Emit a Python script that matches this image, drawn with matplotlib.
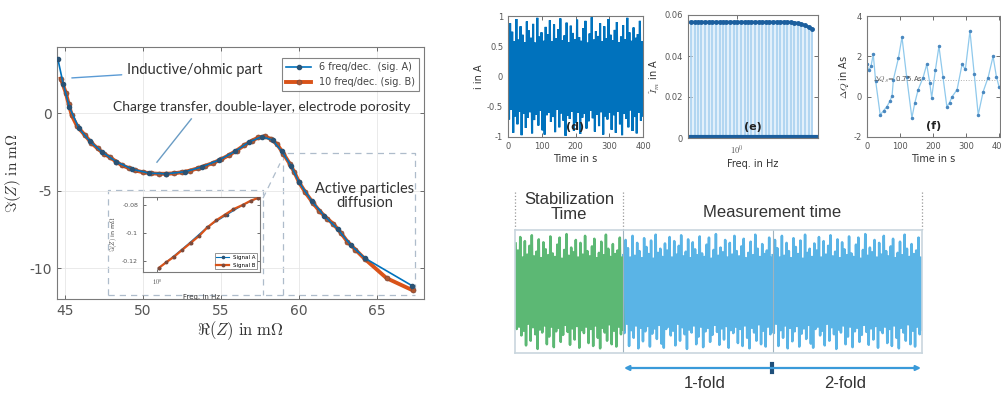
import numpy as np
import matplotlib
matplotlib.use("Agg")
import matplotlib.pyplot as plt
from matplotlib.ticker import NullLocator, FixedLocator, FixedFormatter

# ---------------- data ----------------
# Nyquist plot, signal A (6 freq/dec.)
re_A = [44.55, 44.9, 45.3, 45.9, 46.6, 47.4, 48.3, 49.3, 50.4, 51.5, 52.7, 53.8,
        54.9, 55.9, 56.8, 57.6, 58.3, 58.9, 59.5, 60.0, 60.8, 61.6, 62.5, 63.3,
        64.2, 67.25]
im_A = [3.55, 1.9, 0.4, -0.95, -1.8, -2.5, -3.12, -3.6, -3.86, -3.9, -3.77, -3.45,
        -3.0, -2.45, -1.85, -1.5, -1.72, -2.45, -3.4, -4.45, -5.65, -6.6, -7.5, -8.5,
        -9.35, -11.15]
# Nyquist plot, signal B (10 freq/dec.)
re_B = [44.74, 45.06, 45.25, 45.45, 45.8, 46.3, 46.7, 47.1, 47.5, 47.9, 48.3, 48.65,
        49.1, 49.5, 50.0, 50.5, 51.0, 51.5, 52.0, 52.5, 53.0, 53.5, 54.0, 54.5,
        55.0, 55.5, 56.0, 56.5, 57.0, 57.4, 57.8, 58.2, 58.6, 59.0, 59.4, 59.7,
        60.0, 60.4, 60.9, 61.3, 61.8, 62.2, 62.7, 63.1, 63.6, 64.2, 65.6, 67.3]
im_B = [2.26, 1.35, 0.6, -0.13, -0.84, -1.42, -1.9, -2.26, -2.6, -2.84, -3.12, -3.35,
        -3.53, -3.68, -3.8, -3.87, -3.9, -3.9, -3.87, -3.8, -3.7, -3.55, -3.38, -3.2,
        -2.97, -2.7, -2.4, -2.05, -1.75, -1.55, -1.48, -1.65, -2.0, -2.6, -3.25, -3.8,
        -4.45, -5.1, -5.8, -6.3, -6.8, -7.15, -7.75, -8.3, -8.8, -9.4, -10.65, -11.45]

# inset (zoom on low-frequency part)
inset_f_A = [1.04, 1.37, 1.9, 2.67, 3.96, 5.43, 7.3]
inset_v_A = [-0.125, -0.117, -0.107, -0.096, -0.087, -0.080, -0.075]
inset_f_B = [1.04, 1.2, 1.4, 1.65, 1.95, 2.3, 2.7, 3.2, 3.8, 4.5, 5.4, 6.3, 7.3]
inset_v_B = [-0.125, -0.121, -0.117, -0.112, -0.107, -0.102, -0.096, -0.091,
             -0.087, -0.083, -0.080, -0.077, -0.075]

# multisine excitation current (one period, sample peaks)
sig = [0.62, -0.71, 0.88, -0.55, 0.74, -0.93, 0.58, -0.66, 0.95, -0.79,
       0.61, -0.58, 0.83, -0.97, 0.69, -0.62, 0.57, -0.85, 0.91, -0.68,
       0.76, -0.59, 0.64, -0.94, 0.87, -0.72, 0.56, -0.63, 0.97, -0.81,
       0.66, -0.57, 0.73, -0.89, 0.59, -0.96, 0.82, -0.64, 0.70, -0.60,
       0.93, -0.75, 0.58, -0.67, 0.86, -0.92, 0.63, -0.55, 0.78, -0.84,
       0.96, -0.61, 0.60, -0.73, 0.68, -0.98, 0.89, -0.65, 0.57, -0.70,
       0.84, -0.58, 0.72, -0.90, 0.62, -0.77, 0.94, -0.60, 0.65, -0.95,
       0.59, -0.68, 0.80, -0.62, 0.92, -0.86, 0.56, -0.74, 0.71, -0.57,
       0.98, -0.69, 0.61, -0.91, 0.75, -0.63, 0.67, -0.82, 0.88, -0.59,
       0.58, -0.96, 0.83, -0.66, 0.63, -0.71, 0.95, -0.60, 0.69, -0.88,
       0.60, -0.64, 0.77, -0.93, 0.90, -0.58, 0.57, -0.79, 0.66, -0.97,
       0.85, -0.62, 0.62, -0.70, 0.97, -0.84, 0.73, -0.56, 0.59, -0.90,
       0.81, -0.67, 0.64, -0.94, 0.70, -0.60, 0.92, -0.73, 0.58, -0.65]
sig_period = 400.0

# amplitude spectrum (e)
freq_e = [0.42, 0.45, 0.48, 0.51, 0.55, 0.59, 0.63, 0.67, 0.72, 0.77, 0.82, 0.88,
          0.94, 1.0, 1.07, 1.15, 1.23, 1.31, 1.4, 1.5, 1.6, 1.71, 1.83, 1.96, 2.1,
          2.24, 2.4, 2.56, 2.74, 2.93, 3.13, 3.35, 3.58, 3.83, 4.1]
amp_e = [0.0565] * 28 + [0.0564, 0.0562, 0.0559, 0.0555, 0.0549, 0.0541, 0.0531]

# charge deviation (f)
t_f = [0, 5, 12, 19, 26, 40, 50, 60, 70, 76, 80, 95, 106, 120, 136, 145, 155, 170,
       181, 190, 196, 207, 218, 230, 242, 250, 258, 273, 288, 298, 312, 325, 337,
       352, 367, 382, 392, 400]
dq_f = [1.6, 1.3, 1.5, 2.1, 0.8, -0.9, -0.7, -0.5, -0.2, 0.05, 0.85, 1.9, 2.95, 1.0,
        -1.05, -0.3, 0.35, 0.95, 1.6, 0.7, -0.05, 1.3, 2.5, 1.0, -0.5, -0.3, 0.0,
        0.35, 1.6, 1.35, 3.25, 1.1, -0.9, 0.25, 0.95, 2.0, 1.0, 0.5]
dq_level = 0.85

# ---------------- figure ----------------
W, H = 1001, 394
plt.rcParams['mathtext.fontset'] = 'cm'
plt.rcParams['axes.unicode_minus'] = False
fig = plt.figure(figsize=(W / 100, H / 100), dpi=100)


def box(x0, y0, x1, y1):
    return [x0 / W, 1 - y1 / H, (x1 - x0) / W, (y1 - y0) / H]


TXT = '#333333'
TICK = '#555555'
SPINE = '#7a7a7a'
BLUE = '#0072BD'
ORANGE = '#D95319'


def matlab_style(a, fs):
    for s in a.spines.values():
        s.set_color(SPINE)
        s.set_linewidth(0.8)
    a.tick_params(direction='in', top=True, right=True, labelsize=fs,
                  colors=TICK, length=3, width=0.6)


# overlay axes in pixel coordinates for schematic text
ov = fig.add_axes([0, 0, 1, 1])
ov.set_xlim(0, W)
ov.set_ylim(H, 0)
ov.axis('off')

# ---- main Nyquist plot ----
ax = fig.add_axes(box(57, 47, 424, 299))
matlab_style(ax, 10)
ax.grid(True, color='#e6e6e6', lw=0.6)
lB, = ax.plot(re_B, im_B, '-o', color=ORANGE, lw=2.8, ms=3.6, mfc='#b0562e',
              mec='#7d4a3a', mew=0.5, zorder=3, label='10 freq/dec. (sig. B)')
lA, = ax.plot(re_A, im_A, '-o', color=BLUE, lw=1.2, ms=3.0, mfc='#2b5273',
              mec='#2b5273', zorder=4, label='6 freq/dec.  (sig. A)')
ax.set_xlim(44.5, 68.0)
ax.set_ylim(-12.0, 4.3)
ax.set_xticks([45, 50, 55, 60, 65])
ax.set_yticks([-10, -5, 0])
ax.set_xlabel(r'$\Re(Z)\ \mathrm{in}\ \mathrm{m}\Omega$', fontsize=12, color=TXT, labelpad=1)
ax.set_ylabel(r'$\Im(Z)\ \mathrm{in}\ \mathrm{m}\Omega$', fontsize=11, color=TXT, labelpad=5)
leg = ax.legend(handles=[lA, lB], loc='upper right', fontsize=7, frameon=True,
                fancybox=False, edgecolor='#666666', borderpad=0.4,
                handlelength=2.6, bbox_to_anchor=(1.0, 0.975))
leg.get_frame().set_linewidth(0.8)
for t in leg.get_texts():
    t.set_color('#444444')

# zoom boxes (dashed)
dash = dict(color='#aebccb', lw=0.9, ls=(0, (5, 4)), zorder=1)
ax.plot([47.76, 47.76, 57.69, 57.69], [-11.74, -4.97, -4.97, -11.74], **dash)
ax.plot([47.76, 67.44], [-11.74, -11.74], **dash)
ax.plot([58.97, 58.97, 67.44, 67.44], [-11.74, -2.58, -2.58, -11.74], **dash)
ax.plot([57.69, 58.78], [-5.48, -3.23], **dash)

# annotations
ann_font = 'Lato'
ax.annotate('Inductive/ohmic part', xy=(45.45, 2.3), xytext=(49.0, 2.8),
            fontsize=10.5, family=ann_font, color=TXT, va='center',
            arrowprops=dict(arrowstyle='-', color='#5b9bd5', lw=1.0, shrinkB=0))
ax.text(57.6, 0.4, 'Charge transfer, double-layer, electrode porosity',
        fontsize=10, family=ann_font, color=TXT, ha='center', va='center')
ax.plot([53.1, 50.9], [-0.35, -3.15], color='#6a9cc4', lw=1.0)
ax.text(64.2, -5.35, 'Active particles\ndiffusion', fontsize=10.5, family=ann_font,
        color=TXT, ha='center', va='center', linespacing=1.0)

# ---- inset ----
axi = fig.add_axes(box(143, 197, 260, 272))
matlab_style(axi, 4.5)
axi.tick_params(length=2)
axi.set_xscale('log')
axi.plot(inset_f_B, inset_v_B, '-o', color=ORANGE, lw=1.6, ms=1.8, mfc='#7d4a3a',
         mec='#7d4a3a', label='Signal B', zorder=3)
axi.plot(inset_f_A, inset_v_A, '-o', color=BLUE, lw=0.8, ms=1.6, mfc='#2b5273',
         mec='#2b5273', label='Signal A', zorder=2)
axi.set_xlim(10 ** -0.12, 10 ** 0.88)
axi.set_ylim(-0.128, -0.0743)
axi.set_yticks([-0.12, -0.1, -0.08])
axi.set_yticklabels(['-0.12', '-0.1', '-0.08'])
axi.xaxis.set_major_locator(FixedLocator([1]))
axi.xaxis.set_major_formatter(FixedFormatter([r'$10^0$']))
axi.xaxis.set_minor_locator(NullLocator())
axi.set_xlabel('Freq. in Hz', fontsize=5, color=TXT, labelpad=5)
axi.set_ylabel(r'$\Im(Z)$ in m$\Omega$', fontsize=4.5, color=TXT, labelpad=2)
h = axi.get_legend_handles_labels()
li = axi.legend([h[0][1], h[0][0]], ['Signal A', 'Signal B'], loc='lower right',
                fontsize=4, fancybox=False, edgecolor='#666666', handlelength=2.2,
                borderpad=0.3)
li.get_frame().set_linewidth(0.6)

# ---- (d) excitation signal ----
t_sig = np.linspace(0, sig_period, len(sig))
sig_arr = np.array(sig)
axd = fig.add_axes(box(508, 16, 643, 137))
matlab_style(axd, 6)
axd.plot(t_sig, sig_arr, color=BLUE, lw=1.5, solid_joinstyle='miter')
axd.set_xlim(0, 400)
axd.set_ylim(-1, 1)
axd.set_xticks([0, 100, 200, 300, 400])
axd.set_yticks([-1, -0.5, 0, 0.5, 1])
axd.set_yticklabels(['-1', '-0.5', '0', '0.5', '1'])
axd.set_xlabel('Time in s', fontsize=7, color=TXT, labelpad=2)
axd.set_ylabel('i in A', fontsize=7, color=TXT, labelpad=2)
axd.text(0.5, 0.04, '(d)', transform=axd.transAxes, ha='center', va='bottom',
         fontsize=8, fontweight='bold', color='#222222')

# ---- (e) amplitude spectrum ----
axe = fig.add_axes(box(688, 15, 818, 138))
matlab_style(axe, 6)
axe.set_xscale('log')
axe.fill_between(freq_e, 0, amp_e, color='#e2f0fb', lw=0)
axe.vlines(freq_e, 0, amp_e, color='#a9d1f0', lw=1.2)
axe.plot(freq_e, amp_e, '-o', color='#1c5f9e', lw=2.2, ms=2.5)
axe.axhline(0.0003, color='#1c5f9e', lw=3.0)
axe.set_xlim(10 ** -0.4, 10 ** 0.66)
axe.set_ylim(0, 0.06)
axe.set_yticks([0, 0.02, 0.04, 0.06])
axe.set_yticklabels(['0', '0.02', '0.04', '0.06'])
axe.xaxis.set_major_locator(FixedLocator([1]))
axe.xaxis.set_major_formatter(FixedFormatter([r'$10^0$']))
axe.xaxis.set_minor_locator(NullLocator())
axe.set_xlabel('Freq. in Hz', fontsize=7, color=TXT, labelpad=2)
axe.set_ylabel(r'$\hat{I}_m$ in A', fontsize=7, color=TXT, labelpad=2)
axe.text(0.5, 0.05, '(e)', transform=axe.transAxes, ha='center', va='bottom',
         fontsize=8, fontweight='bold', color='#222222')

# ---- (f) charge deviation ----
axf = fig.add_axes(box(867, 16, 1000, 137))
matlab_style(axf, 6)
axf.axhline(dq_level, xmin=0.22, color='#b0b0b0', lw=0.7, ls=':')
axf.plot(t_f, dq_f, '-', color='#8fc9ec', lw=0.9)
axf.plot(t_f, dq_f, '.', color='#4a88bf', ms=3)
axf.text(18, dq_level, r'$\Delta Q_S$= 0.75 As', fontsize=5, color='#555555',
         va='center')
axf.set_xlim(0, 403)
axf.set_ylim(-2, 4)
axf.set_xticks([0, 100, 200, 300, 400])
axf.set_yticks([-2, 0, 2, 4])
axf.set_xlabel('Time in s', fontsize=7, color=TXT, labelpad=2)
axf.set_ylabel(r'$\Delta Q$ in As', fontsize=7, color=TXT, labelpad=2)
axf.text(0.5, 0.05, '(f)', transform=axf.transAxes, ha='center', va='bottom',
         fontsize=8, fontweight='bold', color='#222222')

# ---- schematic: stabilization + measurement ----
GREEN = '#5cb874'
SKY = '#5ab4e6'
axs = fig.add_axes(box(515, 230, 922, 353))
axs.plot(t_sig, sig_arr, color=SKY, lw=1.8)
axs.plot(t_sig + sig_period, sig_arr, color=SKY, lw=1.8)
stab = t_sig >= 110
axs.plot(t_sig[stab] - sig_period, sig_arr[stab], color=GREEN, lw=1.8)
axs.axvline(0, color='#9fb3bf', lw=0.8)
axs.axvline(sig_period, color='#9fb3bf', lw=0.8)
axs.set_xlim(-290, 800)
axs.set_ylim(-1.05, 1.05)
axs.set_xticks([])
axs.set_yticks([])
for s in axs.spines.values():
    s.set_color('#c9d6de')
    s.set_linewidth(1.2)

sfont = 'Liberation Sans'
for xv in (515, 623, 922):
    ov.plot([xv, xv], [192, 230], color='#999999', lw=0.9, ls=':')
ov.text(569, 207, 'Stabilization\nTime', ha='center', va='center', fontsize=12,
        family=sfont, color=TXT, linespacing=1.0)
ov.text(772, 212, 'Measurement time', ha='center', va='center', fontsize=12,
        family=sfont, color=TXT)
ov.annotate('', xy=(624, 368), xytext=(921, 368),
            arrowprops=dict(arrowstyle='<|-|>', color='#3a9ad9', lw=1.6,
                            mutation_scale=7, shrinkA=0, shrinkB=0))
ov.plot([772, 772], [364, 372], color='#1f4f7a', lw=3)
ov.text(705, 384, '1-fold', ha='center', va='center', fontsize=12, family=sfont,
        color=TXT)
ov.text(845, 384, '2-fold', ha='center', va='center', fontsize=12, family=sfont,
        color=TXT)

fig.savefig('out.png', dpi=100)
